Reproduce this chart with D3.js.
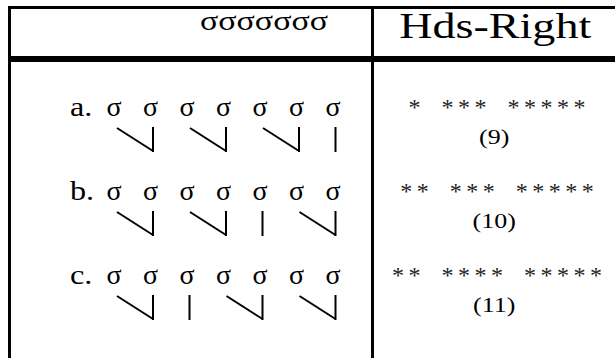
<!DOCTYPE html>
<html><head><meta charset="utf-8">
<script src="https://cdn.jsdelivr.net/npm/d3@7"></script>
<style>body{margin:0;background:#fff}svg{display:block}</style>
</head><body>
<script>
const headers = ["σσσσσσσ", "Hds-Right"];
const rowLabels = ["a.", "b.", "c."];
const syllables = ["σ", "σ", "σ", "σ", "σ", "σ", "σ"];
const footGroups = [
  [[0, 1], [2, 3], [4, 5], [6]],
  [[0, 1], [2, 3], [4], [5, 6]],
  [[0, 1], [2], [3, 4], [5, 6]]
];
const stars = ["* *** *****", "** *** *****", "** **** *****"];
const scores = ["(9)", "(10)", "(11)"];

const W = 615, H = 358;
const svg = d3.select("body").append("svg").attr("width", W).attr("height", H);
const font = "'Liberation Serif','Times New Roman',serif";

const colX = d3.scaleLinear().domain([0, 1, 2]).range([9.5, 372.5, 618]);
const rowY = d3.scaleLinear().domain([0, 1]).range([116, 200]);
const sx = d3.scalePoint().domain(d3.range(syllables.length)).range([114, 333]);
const cx = (colX(1) + colX(2)) / 2;

// table frame
svg.append("line").attr("x1", colX(0)).attr("x2", colX(0)).attr("y1", 6).attr("y2", H + 5).attr("stroke", "#000").attr("stroke-width", 3);
svg.append("line").attr("x1", colX(1)).attr("x2", colX(1)).attr("y1", 6).attr("y2", H + 5).attr("stroke", "#000").attr("stroke-width", 3);
svg.append("line").attr("x1", 8).attr("x2", W + 5).attr("y1", 7.5).attr("y2", 7.5).attr("stroke", "#000").attr("stroke-width", 3);
svg.append("line").attr("x1", 8).attr("x2", W + 5).attr("y1", 59).attr("y2", 59).attr("stroke", "#000").attr("stroke-width", 6);

// headers
svg.append("text").attr("x", 200).attr("y", 30)
  .attr("textLength", 128).attr("lengthAdjust", "spacingAndGlyphs")
  .attr("font-family", font).attr("font-size", 28).text(headers[0]);
svg.append("text").attr("x", cx - 96).attr("y", 38)
  .attr("textLength", 192).attr("lengthAdjust", "spacingAndGlyphs")
  .attr("font-family", font).attr("font-size", 35).text(headers[1]);

rowLabels.forEach((lab, r) => {
  const y = rowY(r);
  const g = svg.append("g");
  g.append("text").attr("x", 70).attr("y", y).attr("font-family", font).attr("font-size", 28)
    .attr("transform", `translate(70,0) scale(1.15,1) translate(-70,0)`).text(lab);
  g.selectAll("text.s").data(syllables).join("text").attr("class", "s")
    .attr("x", (d, i) => sx(i)).attr("y", y).attr("text-anchor", "middle")
    .attr("font-family", font).attr("font-size", 28).text(d => d);
  footGroups[r].forEach(grp => {
    const last = grp[grp.length - 1];
    const xe = sx(last) + 2.5;
    g.append("line").attr("x1", xe).attr("x2", xe).attr("y1", y + 11).attr("y2", y + 36)
      .attr("stroke", "#000").attr("stroke-width", 2);
    if (grp.length > 1) {
      g.append("line").attr("x1", sx(grp[0]) + 3).attr("x2", xe).attr("y1", y + 12).attr("y2", y + 35)
        .attr("stroke", "#000").attr("stroke-width", 2);
    }
  });
  g.append("text").attr("x", cx + 4).attr("y", y - 1).attr("text-anchor", "middle")
    .attr("font-family", font).attr("font-size", 24).attr("letter-spacing", 4.5).attr("word-spacing", 6)
    .style("white-space", "pre").attr("fill", "#222").text(stars[r]);
  g.append("text").attr("x", 0).attr("y", 0).attr("text-anchor", "middle")
    .attr("transform", `translate(${cx - 1},${y + 27.5}) scale(1.3,1)`)
    .attr("font-family", font).attr("font-size", 20).text(scores[r]);
});
</script>
</body></html>
